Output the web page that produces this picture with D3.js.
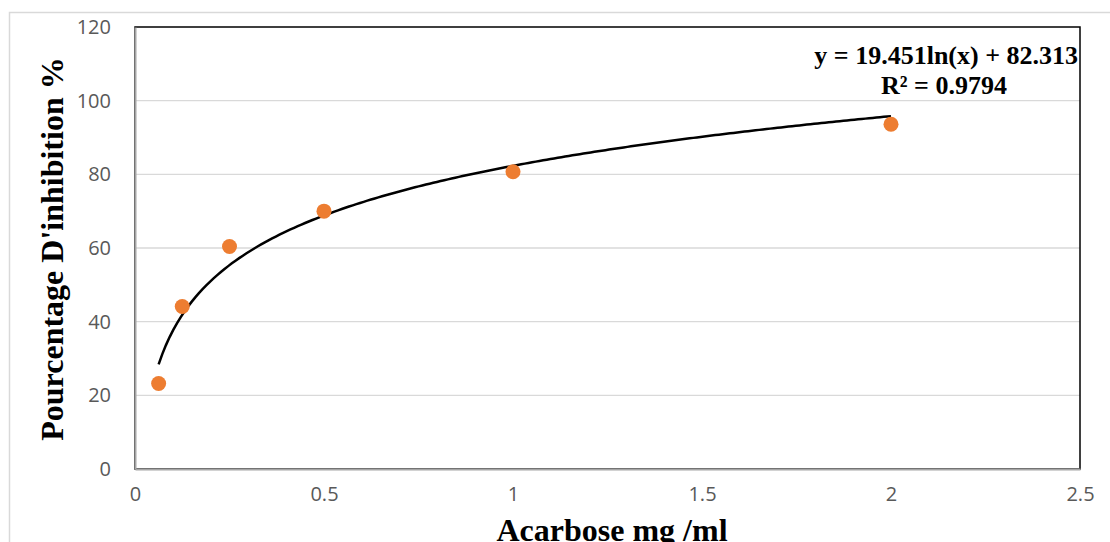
<!DOCTYPE html>
<html>
<head>
<meta charset="utf-8">
<script src="https://cdn.jsdelivr.net/npm/d3@7"></script>
<style>
  body { margin: 0; background: #fff; }
  svg { display: block; }
</style>
</head>
<body>
<div id="chart"></div>
<script>
// concentrations (mg/ml) and measured inhibition (%)
var concentrations = [0.0625, 0.125, 0.25, 0.5, 1, 2];
var inhibition = [23.2, 44.1, 60.4, 70.0, 80.7, 93.6];
var x_ticks = [0, 0.5, 1, 1.5, 2, 2.5];
var y_ticks = [0, 20, 40, 60, 80, 100, 120];
// log trend fitted in the original: y = a ln(x) + b
var trend_a = 19.451;
var trend_b = 82.313;
var r_squared = 0.9794;

var width = 1110, height = 542;
// plot area edges (not called "top": that one belongs to window)
var plot_left = 135, plot_right = 1080, plot_top = 27, plot_bottom = 469;

var svg = d3.select("#chart").append("svg")
    .attr("width", width)
    .attr("height", height);

// outer chart frame (partly off the page like the original)
svg.append("rect")
    .attr("x", 9.5).attr("y", 12.5)
    .attr("width", 1120).attr("height", 560)
    .style("fill", "none")
    .style("stroke", "#d9d9d9")
    .style("stroke-width", 1.5);

var x = d3.scaleLinear().domain([0, 2.5]).range([plot_left, plot_right]);
var y = d3.scaleLinear().domain([0, 120]).range([plot_bottom, plot_top]);

// grid lines
svg.append("g").selectAll("line")
    .data(y_ticks.filter(d => d > 0 && d < 120))
    .join("line")
    .attr("x1", plot_left).attr("x2", plot_right)
    .attr("y1", d => y(d)).attr("y2", d => y(d))
    .style("stroke", "#d9d9d9")
    .style("stroke-width", 1.3);

// plot area border
svg.append("rect")
    .attr("x", plot_left).attr("y", plot_top)
    .attr("width", plot_right - plot_left).attr("height", plot_bottom - plot_top)
    .style("fill", "none")
    .style("stroke", "#000")
    .style("stroke-width", 1.5);

// axes (gray lines over the border)
var y_axis = d3.axisLeft(y).tickValues(y_ticks).tickSize(0).tickPadding(24);
var gy = svg.append("g").attr("transform", "translate(" + plot_left + ",0)").call(y_axis);
var x_axis = d3.axisBottom(x).tickValues(x_ticks).tickSize(0).tickPadding(18)
    .tickFormat(d3.format("~g"));
var gx = svg.append("g").attr("transform", "translate(0," + plot_bottom + ")").call(x_axis);

[gx, gy].forEach(function (g) {
    g.select(".domain").style("stroke", "#a6a6a6").style("stroke-width", 2);
    g.selectAll("text")
        .style("font-family", "'Open Sans', sans-serif")
        .style("font-size", "20px")
        .style("fill", "#595959");
});

// trend line
var n_steps = 200;
var x_first = concentrations[0], x_last = concentrations[concentrations.length - 1];
var trend_x = d3.range(0, n_steps + 1).map(i => x_first + (x_last - x_first) * i / n_steps);
var trend_line = d3.line()
    .x(d => x(d))
    .y(d => y(trend_a * Math.log(d) + trend_b));
svg.append("path")
    .datum(trend_x)
    .attr("d", trend_line)
    .style("fill", "none")
    .style("stroke", "#000")
    .style("stroke-width", 2.5);

// data points
svg.append("g").selectAll("circle")
    .data(concentrations)
    .join("circle")
    .attr("cx", d => x(d))
    .attr("cy", (d, i) => y(inhibition[i]))
    .attr("r", 7.5)
    .style("fill", "#ed7d31");

// equation label
var eq = svg.append("g")
    .style("font-family", "'Liberation Serif', 'Times New Roman', serif")
    .style("font-weight", "bold")
    .style("font-size", "26px")
    .style("fill", "#000");
eq.append("text")
    .attr("x", 1078).attr("y", 64)
    .attr("text-anchor", "end")
    .text("y = " + trend_a + "ln(x) + " + trend_b);
eq.append("text")
    .attr("x", 944).attr("y", 94)
    .attr("text-anchor", "middle")
    .text("R² = " + r_squared);

// axis titles
svg.append("text")
    .attr("x", 612).attr("y", 541)
    .attr("text-anchor", "middle")
    .style("font-family", "'Liberation Serif', 'Times New Roman', serif")
    .style("font-weight", "bold")
    .style("font-size", "32px")
    .text("Acarbose mg /ml");

svg.append("text")
    .attr("transform", "translate(63,249) rotate(-90)")
    .attr("text-anchor", "middle")
    .style("font-family", "'Liberation Serif', 'Times New Roman', serif")
    .style("font-weight", "bold")
    .style("font-size", "32px")
    .text("Pourcentage D'inhibition %");
</script>
</body>
</html>
